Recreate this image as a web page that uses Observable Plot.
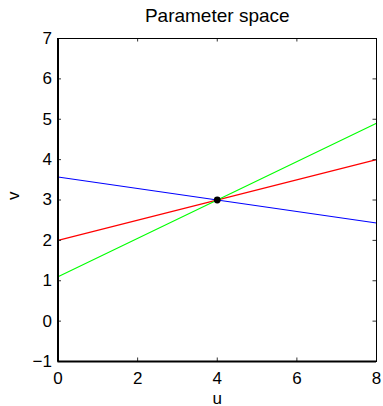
<!DOCTYPE html>
<html>
<head>
<meta charset="utf-8">
<script src="https://cdn.jsdelivr.net/npm/d3@7"></script>
<script src="https://cdn.jsdelivr.net/npm/@observablehq/plot@0.6"></script>
<style>
  html, body { margin: 0; padding: 0; background: #fff; }
  svg { display: block; }
</style>
</head>
<body>
<div id="chart"></div>
<script>
const titleText = "Parameter space";
const xLabel = "u";
const yLabel = "v";
const xDomain = [0, 8];
const yDomain = [-1, 7];
const xTicks = [0, 2, 4, 6, 8];
const yTicks = [-1, 0, 1, 2, 3, 4, 5, 6, 7];
const lineU = [0, 8];
const blueV = [3.57, 2.43];
const redV = [2, 4];
const greenV = [1.1, 4.9];
const pointU = [4];
const pointV = [3];

const series = [
  {name: "blue", color: "#0000ff", v: blueV},
  {name: "red", color: "#ff0000", v: redV},
  {name: "green", color: "#00ff00", v: greenV}
];
const lineData = series.flatMap(s => lineU.map((u, i) => ({u, v: s.v[i], name: s.name, color: s.color})));
const pointData = pointU.map((u, i) => ({u, v: pointV[i]}));

const W = 383, H = 406;
const mL = 57.5, mR = 7, mT = 38, mB = 45;
const fw = W - mL - mR, fh = H - mT - mB;
const tickLen = 3.5;
const font = "Liberation Sans, Arial, Helvetica, sans-serif";

const chart = Plot.plot({
  width: W,
  height: H,
  marginLeft: mL,
  marginRight: mR,
  marginTop: mT,
  marginBottom: mB,
  style: {fontFamily: font, fontSize: "17px", background: "#fff", color: "#000"},
  x: {domain: xDomain},
  y: {domain: yDomain},
  marks: [
    // lines
    Plot.line(lineData, {x: "u", y: "v", z: "name", stroke: "color", strokeWidth: 1.1}),
    Plot.dot(pointData, {x: "u", y: "v", r: 3.4, fill: "#000", stroke: "none"}),
    // inward ticks, all four sides
    Plot.ruleX(xTicks, {x: d => d, insetTop: fh - tickLen, stroke: "#333", strokeWidth: 1}),
    Plot.ruleX(xTicks, {x: d => d, insetBottom: fh - tickLen, stroke: "#333", strokeWidth: 1}),
    Plot.ruleY(yTicks, {y: d => d, insetRight: fw - tickLen, stroke: "#333", strokeWidth: 1}),
    Plot.ruleY(yTicks, {y: d => d, insetLeft: fw - tickLen, stroke: "#333", strokeWidth: 1}),
    // box
    Plot.frame({stroke: "#000", strokeWidth: 1}),
    Plot.ruleX([xDomain[0]], {stroke: "#000", strokeWidth: 2}),
    Plot.ruleY([yDomain[0]], {stroke: "#000", strokeWidth: 2}),
    // axes (labels only)
    Plot.axisX(xTicks, {tickSize: 0, tickPadding: 10, label: null, fontSize: 17, tickFormat: d => d < 0 ? "\u2212" + Math.abs(d) : String(d)}),
    Plot.axisY(yTicks, {tickSize: 0, tickPadding: 6, label: null, fontSize: 17, tickFormat: d => d < 0 ? "\u2212" + Math.abs(d) : String(d)}),
    // title & axis labels
    Plot.text([titleText], {frameAnchor: "top", dy: -17, lineAnchor: "bottom", fontSize: 19, fill: "#000", text: d => d}),
    Plot.text([xLabel], {frameAnchor: "bottom", dy: 42, lineAnchor: "bottom", fontSize: 17, fill: "#000", text: d => d}),
    Plot.text([yLabel], {frameAnchor: "left", dx: -39, rotate: -90, lineAnchor: "bottom", fontSize: 17, fill: "#000", text: d => d})
  ]
});
document.getElementById("chart").appendChild(chart);
</script>
</body>
</html>
